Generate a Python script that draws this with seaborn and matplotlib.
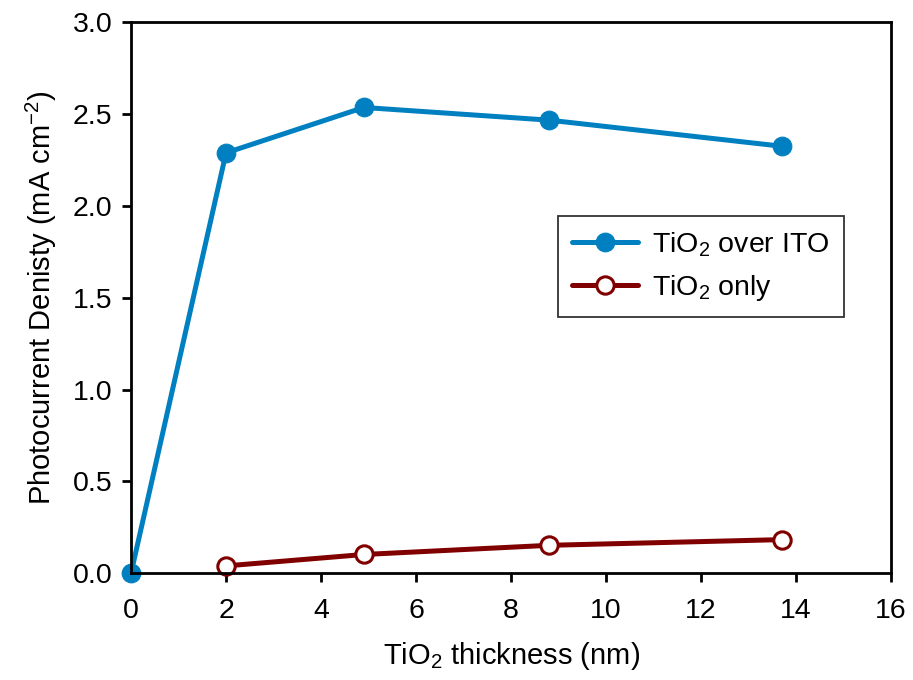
import matplotlib
matplotlib.use("Agg")
import matplotlib.pyplot as plt
import seaborn as sns
import pandas as pd

# data
x_ito = [0, 2, 4.9, 8.8, 13.7]
y_ito = [0, 2.288, 2.535, 2.466, 2.324]
x_only = [2, 4.9, 8.8, 13.7]
y_only = [0.040, 0.102, 0.152, 0.183]
label_ito = "TiO$_2$ over ITO"
label_only = "TiO$_2$ only"
xticks = [0, 2, 4, 6, 8, 10, 12, 14, 16]
yticks = [0.0, 0.5, 1.0, 1.5, 2.0, 2.5, 3.0]

sns.set_style("white")
plt.rcParams['font.family'] = ['Liberation Sans', 'DejaVu Sans']
plt.rcParams['mathtext.fontset'] = 'custom'
plt.rcParams['mathtext.rm'] = 'Liberation Sans'
plt.rcParams['mathtext.it'] = 'Liberation Sans:italic'
plt.rcParams['mathtext.bf'] = 'Liberation Sans:bold'
plt.rcParams['text.color'] = 'black'
plt.rcParams['axes.labelcolor'] = 'black'

fig = plt.figure(figsize=(9.13, 6.8), dpi=100)
ax = fig.add_axes([0.1435, 0.157, 0.8325, 0.8106])

df1 = pd.DataFrame({"x": x_ito, "y": y_ito})
df2 = pd.DataFrame({"x": x_only, "y": y_only})

sns.lineplot(data=df1, x="x", y="y", ax=ax, color="#0080C0", linewidth=3.6,
             marker="o", markersize=13.5, markerfacecolor="#0080C0",
             markeredgecolor="#0080C0", label=label_ito, clip_on=False)
sns.lineplot(data=df2, x="x", y="y", ax=ax, color="#800000", linewidth=3.6,
             marker="o", markersize=12.5, markerfacecolor="white",
             markeredgecolor="#800000", markeredgewidth=2.2, label=label_only,
             clip_on=False)

ax.set_xlim(0, 16)
ax.set_ylim(0, 3.0)
ax.set_xticks(xticks)
ax.set_yticks(yticks)
ax.set_xticklabels([str(t) for t in xticks])
ax.set_yticklabels([f"{t:.1f}" for t in yticks])
ax.tick_params(axis='both', direction='out', length=6.5, width=2,
               labelsize=20.5, colors='black', bottom=True, left=True,
               top=False, right=False)
ax.tick_params(axis='x', pad=11)
ax.tick_params(axis='y', pad=7)
for s in ax.spines.values():
    s.set_visible(True)
    s.set_color('black')
    s.set_linewidth(2)

ax.set_xlabel("TiO$_2$ thickness (nm)", fontsize=21, labelpad=12)
ax.set_ylabel("Photocurrent Denisty (mA cm$^{-2}$)", fontsize=21, labelpad=10)

leg = ax.legend(loc="center", bbox_to_anchor=(0.75, 0.556), fontsize=20.5,
                frameon=True, fancybox=False, edgecolor='black',
                handlelength=2.3, borderpad=0.5, labelspacing=0.5,
                handletextpad=0.5, borderaxespad=0)
leg.get_frame().set_linewidth(1.3)

fig.savefig("out.png", dpi=100)
